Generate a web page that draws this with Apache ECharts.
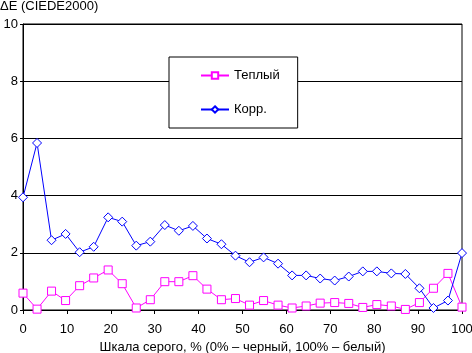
<!DOCTYPE html>
<html>
<head>
<meta charset="utf-8">
<script src="https://cdn.jsdelivr.net/npm/echarts@6/dist/echarts.min.js"></script>
<style>
  html, body { margin: 0; padding: 0; background: #fff; }
  #chart { width: 472px; height: 353px; }
</style>
</head>
<body>
<div id="chart"></div>
<script>
var grayPct = [0, 3.2, 6.5, 9.7, 12.9, 16.1, 19.4, 22.6, 25.8, 29.0, 32.3, 35.5, 38.7, 41.9, 45.2, 48.4,
               51.6, 54.8, 58.1, 61.3, 64.5, 67.7, 71.0, 74.2, 77.4, 80.6, 83.9, 87.1, 90.3, 93.5, 96.8, 100];
var warm = [0.59, 0.03, 0.66, 0.33, 0.85, 1.12, 1.40, 0.92, 0.07, 0.36, 0.99, 0.99, 1.20, 0.73, 0.36, 0.40,
            0.17, 0.33, 0.17, 0.07, 0.14, 0.24, 0.26, 0.23, 0.09, 0.19, 0.14, 0.02, 0.26, 0.76, 1.28, 0.10];
var corr = [3.94, 5.84, 2.44, 2.66, 2.02, 2.21, 3.24, 3.09, 2.25, 2.39, 2.97, 2.77, 2.94, 2.50, 2.30, 1.90,
            1.67, 1.84, 1.62, 1.21, 1.21, 1.10, 1.03, 1.17, 1.35, 1.35, 1.28, 1.26, 0.76, 0.07, 0.33, 1.99];
var seriesNames = ['Теплый', 'Корр.'];

function pairs(ys) {
  return ys.map(function (y, i) { return [grayPct[i], y]; });
}

var font = 'Arial, "Liberation Sans", sans-serif';
var myChart = echarts.init(document.getElementById('chart'));

var option = {
  animation: false,
  textStyle: { fontFamily: font },
  title: {
    text: 'ΔE (CIEDE2000)',
    left: 0,
    top: 0,
    padding: 0,
    textStyle: { fontSize: 13, fontWeight: 'normal', color: '#000', fontFamily: font }
  },
  grid: {
    left: 23, right: 10, top: 24, bottom: 43,
    containLabel: false,
    outerBoundsMode: 'none',
    show: true, borderColor: '#000', borderWidth: 1
  },
  legend: {
    orient: 'vertical',
    left: 169, top: 57,
    padding: [12, 18, 12, 31],
    itemGap: 21,
    itemWidth: 28,
    itemHeight: 8,
    backgroundColor: '#fff',
    borderColor: '#000',
    borderWidth: 1,
    borderRadius: 0,
    textStyle: { fontSize: 13, color: '#000', fontFamily: font },
    data: seriesNames
  },
  xAxis: {
    type: 'value',
    min: 0, max: 100, interval: 10,
    name: 'Шкала серого, % (0% – черный, 100% – белый)',
    nameLocation: 'middle',
    nameGap: 37,
    nameMoveOverlap: false,
    nameTextStyle: { fontSize: 13, color: '#000', fontFamily: font, verticalAlign: 'middle' },
    axisLine: { lineStyle: { color: '#000', width: 1 } },
    axisTick: { show: true, length: 4, lineStyle: { color: '#000' } },
    axisLabel: { fontSize: 13, color: '#000', margin: 13, fontFamily: font },
    splitLine: { show: false }
  },
  yAxis: {
    type: 'value',
    min: 0, max: 10, interval: 2,
    axisLine: { show: true, lineStyle: { color: '#000', width: 1 } },
    axisTick: { show: true, length: 3, lineStyle: { color: '#000' } },
    axisLabel: { fontSize: 13, color: '#000', margin: 5, fontFamily: font },
    splitLine: { show: true, lineStyle: { color: '#000', width: 1 } }
  },
  series: [
    {
      name: seriesNames[0],
      type: 'line',
      data: pairs(warm),
      symbol: 'rect',
      symbolSize: 8,
      showAllSymbol: true,
      lineStyle: { color: '#ff00ff', width: 1 },
      itemStyle: { color: '#fff', borderColor: '#ff00ff', borderWidth: 1 }
    },
    {
      name: seriesNames[1],
      type: 'line',
      data: pairs(corr),
      symbol: 'diamond',
      symbolSize: 9,
      showAllSymbol: true,
      lineStyle: { color: '#0000ff', width: 1 },
      itemStyle: { color: '#fff', borderColor: '#0000ff', borderWidth: 1 }
    }
  ]
};

myChart.setOption(option);
</script>
</body>
</html>
